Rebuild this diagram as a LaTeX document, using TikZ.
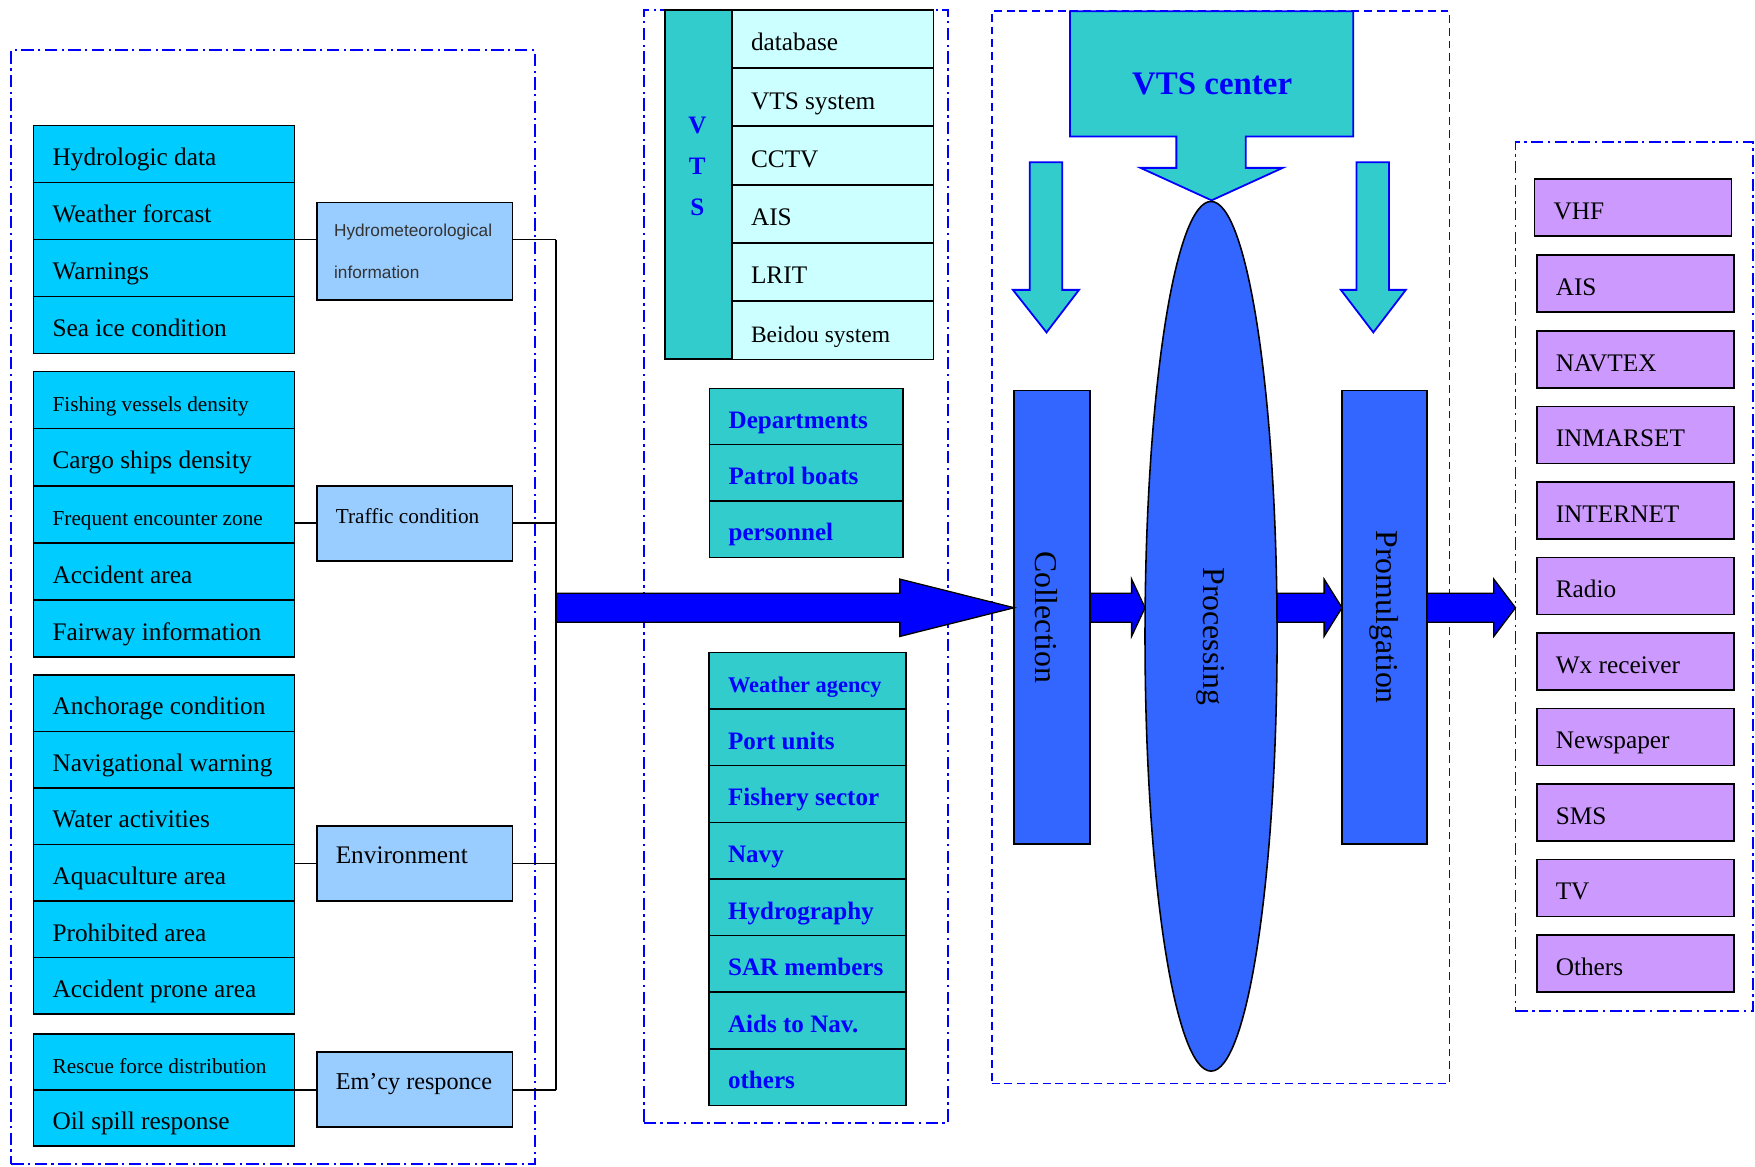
\documentclass[tikz,border=0pt]{standalone}
\usepackage{fontspec}
\usepackage{graphicx}
\setmainfont{Liberation Serif}
\setsansfont{Liberation Sans}
\usetikzlibrary{shapes.geometric,calc}
\definecolor{cyanL}{HTML}{00CCFF}
\definecolor{lblue}{HTML}{99CCFF}
\definecolor{teal2}{HTML}{33CCCC}
\definecolor{pcyan}{HTML}{CCFFFF}
\definecolor{purp}{HTML}{CC99FF}
\definecolor{pblue}{HTML}{3366FF}
\definecolor{bblue}{HTML}{0000FF}
\definecolor{gtext}{HTML}{333333}
\newcommand\szA{\fontsize{11.3}{13.5}\selectfont}
\newcommand\szB{\fontsize{9.5}{11}\selectfont}
\newcommand\szC{\fontsize{10.5}{12}\selectfont}
\newcommand\szE{\fontsize{10.8}{12}\selectfont}
\newcommand\szBd{\fontsize{11.2}{13}\selectfont\bfseries}
\newcommand\szBs{\fontsize{10}{12}\selectfont\bfseries}
\newcommand\szR{\fontsize{14.2}{16}\selectfont}
\newcommand\harrow[3]{%
  \draw[bigarrow] let \p1=(#1), \p2=(#2) in
   (\x1,\y1+6.5pt) -- (\x2-#3,\y1+6.5pt) -- (\x2-#3,\y1+12.8pt) -- (\x2,\y1)
   -- (\x2-#3,\y1-12.8pt) -- (\x2-#3,\y1-6.5pt) -- (\x1,\y1-6.5pt) -- cycle;}
\tikzset{
  cell/.style 2 args={draw=black, line width=0.7pt, outer sep=0pt, inner ysep=0pt,
    inner xsep=8.5pt, anchor=north west, minimum width=#1, minimum height=#2,
    text height=12.5pt, text depth=2pt, font=\szA,
    execute at begin node={\hbox to \dimexpr#1-17pt\relax\bgroup},
    execute at end node={\hfil\egroup}},
  lrow/.style={cell={116.5pt}{#1}, fill=cyanL},
  mbox/.style={cell={87.5pt}{33.5pt}, fill=lblue, text height=6pt, text depth=6pt},
  vrow/.style={cell={90pt}{25.8pt}, fill=pcyan},
  drow/.style={cell={86.5pt}{25.15pt}, fill=teal2, font=\szBd, text=bblue},
  wrow/.style={cell={88pt}{25.3pt}, fill=teal2, font=\szBd, text=bblue},
  prow/.style={cell={88pt}{25.5pt}, fill=purp},
  frameDD/.style={draw=bblue, line width=0.85pt, dash pattern=on 5.5pt off 2pt on 1pt off 2pt,
    anchor=north west, outer sep=0pt, inner sep=0pt},
  frameD/.style={draw=bblue, line width=0.75pt, dash pattern=on 3.5pt off 2.2pt,
    anchor=north west, outer sep=0pt, inner sep=0pt},
  conn/.style={draw=black, line width=0.7pt},
  bigarrow/.style={fill=bblue, draw=black, line width=0.6pt},
  smallarrow/.style={fill=teal2, draw=bblue, line width=0.8pt, line join=miter},
  stage/.style={draw=black, line width=0.7pt, fill=pblue, outer sep=0pt, inner sep=0pt, font=\szR},
}
\begin{document}
\begin{tikzpicture}[x=0.5pt, y=-0.5pt]
\useasboundingbox (0,0) rectangle (1568,1042);
\fill[white] (0,0) rectangle (1568,1042);

% frames
\node[frameDD, minimum width=234pt, minimum height=497.5pt] (fL) at (10,45) {};
\node[frameDD, minimum width=136pt, minimum height=497pt] (fM) at (575,9) {};
\node[frameD, minimum width=204.5pt, minimum height=479pt] (fC) at (886,10) {};
\node[frameDD, minimum width=106.25pt, minimum height=388pt] (fR) at (1354,127) {};

% left group 1
\node[lrow=25.5pt] (g1a) at (30,112) {Hydrologic data};
\node[lrow=25.5pt] (g1b) at (30,163) {Weather forcast};
\node[lrow=25.5pt] (g1c) at (30,214) {Warnings};
\node[lrow=25.5pt] (g1d) at (30,265) {Sea ice condition};
% group 2
\node[lrow=25.4pt] (g2a) at (30,332) {\szB Fishing vessels density};
\node[lrow=25.4pt] (g2b) at (30,383) {Cargo ships density};
\node[lrow=25.4pt] (g2c) at (30,434) {\szB Frequent encounter zone};
\node[lrow=25.4pt] (g2d) at (30,485) {Accident area};
\node[lrow=25.4pt] (g2e) at (30,536) {Fairway information};
% group 3
\node[lrow=25.25pt] (g3a) at (30,603) {Anchorage condition};
\node[lrow=25.25pt] (g3b) at (30,653.5) {Navigational warning};
\node[lrow=25.25pt] (g3c) at (30,704) {Water activities};
\node[lrow=25.25pt] (g3d) at (30,754.5) {Aquaculture area};
\node[lrow=25.25pt] (g3e) at (30,805) {Prohibited area};
\node[lrow=25.25pt] (g3f) at (30,855.5) {Accident prone area};
% group 4
\node[lrow=25pt] (g4a) at (30,924) {\szB Rescue force distribution};
\node[lrow=25pt] (g4b) at (30,974) {Oil spill response};

% category boxes
\node[draw=black, line width=0.7pt, fill=lblue, anchor=north west, outer sep=0pt,
  minimum width=87.5pt, minimum height=43.5pt, text width=72pt, inner xsep=7.75pt,
  align=left, font=\sffamily\fontsize{7.7}{18.5}\selectfont, text=gtext]
  (hydro) at (283,181) {Hydrometeorological\\information};
\node[mbox, font=\szB] (traffic) at (283,434) {Traffic condition};
\node[mbox] (env) at (283,738) {Environment};
\node[mbox, font=\szE] (emcy) at (283,940) {Em’cy responce};

% connectors and bus
\coordinate (busx) at (497,0);
\draw[conn] (g1b.south east) -- (g1b.south east -| hydro.west);
\draw[conn] (g1b.south east -| hydro.east) -- (g1b.south east -| busx) coordinate (b1);
\draw[conn] (g2c.east |- traffic.west) -- (traffic.west);
\draw[conn] (traffic.east) -- (traffic.east -| busx);
\draw[conn] (g3d.east |- env.west) -- (env.west);
\draw[conn] (env.east) -- (env.east -| busx);
\draw[conn] (g4a.south east) -- (g4a.south east -| emcy.west);
\draw[conn] (g4a.south east -| emcy.east) -- (g4a.south east -| busx) coordinate (b4);
\draw[conn] (b1) -- (b4);

% VTS table
\node[draw=black, line width=0.7pt, fill=teal2, anchor=north west, outer sep=0pt,
  minimum width=30pt, minimum height=156pt] (vtscol) at (594,9) {};
\node[font=\fontsize{11.2}{18.4}\selectfont\bfseries, text=bblue, align=center] (vtsl) at (623,148.5) {V\\T\\S};
\node[vrow] (v1) at (654,9) {database};
\node[vrow] (v2) at (654,61.1) {VTS system};
\node[vrow] (v3) at (654,113.2) {CCTV};
\node[vrow] (v4) at (654,165.3) {AIS};
\node[vrow] (v5) at (654,217.4) {LRIT};
\node[vrow] (v6) at (654,269.5) {\szC Beidou system};

% departments
\node[drow] (d1) at (634,347) {Departments};
\node[drow] (d2) at (634,397.3) {Patrol boats};
\node[drow] (d3) at (634,447.7) {personnel};

% agencies
\node[wrow] (w1) at (633.5,582.8) {\szBs Weather agency};
\node[wrow] (w2) at (633.5,633.4) {Port units};
\node[wrow] (w3) at (633.5,684.1) {Fishery sector};
\node[wrow] (w4) at (633.5,734.7) {Navy};
\node[wrow] (w5) at (633.5,785.3) {Hydrography};
\node[wrow] (w6) at (633.5,835.9) {SAR members};
\node[wrow] (w7) at (633.5,886.5) {Aids to Nav.};
\node[wrow] (w8) at (633.5,937.1) {others};

% VTS center
\draw[fill=teal2, draw=bblue, line width=0.8pt, line join=miter]
  (956,10) -- (1209,10) -- (1209,122) -- (1113,122) -- (1113,150) -- (1146,150)
  -- (1082.5,179) -- (1019,150) -- (1051,150) -- (1051,122) -- (956,122) -- cycle;
\node[font=\fontsize{14.7}{17}\selectfont\bfseries, text=bblue] (vtsc) at (1083,75) {VTS center};
\draw[smallarrow] (920,145) -- (949,145) -- (949,259) -- (964,259) -- (935,297)
  -- (905,259) -- (920,259) -- cycle;
\draw[smallarrow] (1212,145) -- (1241,145) -- (1241,259) -- (1256,259) -- (1227,297)
  -- (1198,259) -- (1212,259) -- cycle;

% stages
\node[stage, minimum width=34pt, minimum height=202.5pt] (coll) at (940,551.5)
  {\rotatebox{-90}{Collection}\hspace*{5pt}};
\node[stage, ellipse, minimum width=59pt, minimum height=388.5pt] (proc) at (1082,568.5)
  {\rotatebox{-90}{Processing}};
\node[stage, minimum width=38pt, minimum height=202.5pt] (prom) at (1237,551.5)
  {\rotatebox{-90}{Promulgation}};

% block arrows
\coordinate (axis) at (497,543);
\harrow{axis}{coll.west |- axis}{51pt}
\harrow{coll.east |- axis}{proc.west |- axis}{6pt}
\harrow{proc.east |- axis}{prom.west |- axis}{8pt}
\harrow{prom.east |- axis}{fR.west |- axis}{9.7pt}

% outputs
\node[prow] (o1) at (1371,160) {VHF};
\node[prow] (o2) at (1373,228) {AIS};
\node[prow] (o3) at (1373,295.5) {NAVTEX};
\node[prow] (o4) at (1373,363) {INMARSET};
\node[prow] (o5) at (1373,430.5) {INTERNET};
\node[prow] (o6) at (1373,498) {Radio};
\node[prow] (o7) at (1373,565.5) {Wx receiver};
\node[prow] (o8) at (1373,633) {Newspaper};
\node[prow] (o9) at (1373,700.5) {SMS};
\node[prow] (o10) at (1373,768) {TV};
\node[prow] (o11) at (1373,835.5) {Others};
\end{tikzpicture}
\end{document}
